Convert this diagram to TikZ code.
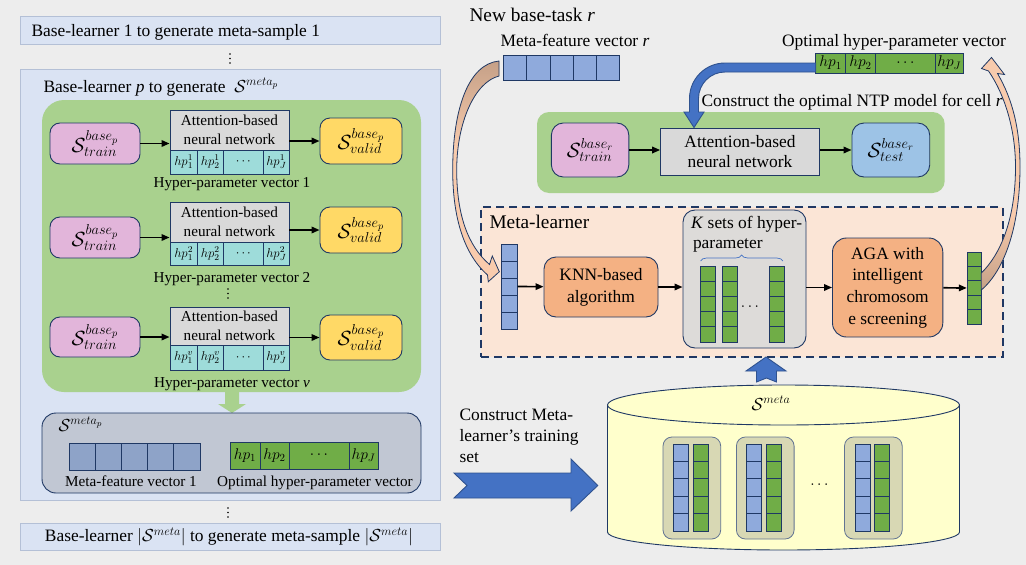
\RequirePackage{fix-cm}
\documentclass[tikz,border=0pt]{standalone}
\usepackage{fontspec}
\setmainfont{Liberation Serif}
\usetikzlibrary{arrows.meta,decorations.pathreplacing}

\definecolor{bg}{HTML}{EDEDED}
\definecolor{panelblue}{HTML}{DAE3F3}
\definecolor{panelline}{HTML}{B4C0D6}
\definecolor{greenreg}{HTML}{A9D18E}
\definecolor{pinkc}{HTML}{E2B5DA}
\definecolor{grayc}{HTML}{D9D9D9}
\definecolor{tealc}{HTML}{9EDCDA}
\definecolor{yellowc}{HTML}{FFD966}
\definecolor{metapc}{HTML}{C1C7D3}
\definecolor{bluecellL}{HTML}{8EA3C8}
\definecolor{bluecell}{HTML}{8FAADC}
\definecolor{greencell}{HTML}{70AD47}
\definecolor{navy}{HTML}{1F3864}
\definecolor{bluebox}{HTML}{9DC3E6}
\definecolor{peachbg}{HTML}{FBE5D6}
\definecolor{orangec}{HTML}{F4B183}
\definecolor{ksetc}{HTML}{DDDBD9}
\definecolor{cylc}{HTML}{FFFFCC}
\definecolor{khaki}{HTML}{D8D8B4}
\definecolor{arrowblue}{HTML}{4472C4}
\definecolor{arrowblueline}{HTML}{2F528F}
\definecolor{peach}{HTML}{F8CBAD}
\definecolor{tanc}{HTML}{C49F86}

\tikzset{
  fL/.style={font=\fontsize{17.4}{21}\selectfont},
  fM/.style={font=\fontsize{15.2}{19}\selectfont},
  fXL/.style={font=\fontsize{19.3}{23}\selectfont},
  fS/.style={font=\fontsize{20.5}{22}\selectfont},
  hpf/.style={font=\fontsize{12.8}{14}\selectfont, inner sep=0pt},
  hpg/.style={font=\fontsize{15.5}{17}\selectfont, inner sep=0pt},
  panel/.style={draw=panelline, line width=0.8pt, fill=panelblue, inner sep=0pt},
  sq/.style={draw=navy, line width=0.9pt, inner sep=0pt, align=center},
  rnd/.style={sq, rounded corners=#1},
  rnd/.default=10pt,
  cellline/.style={draw=navy, line width=0.7pt},
  arr/.style={-{Triangle[length=8pt,width=6.5pt]}, line width=1.7pt, black},
  blockarrow/.style={fill=arrowblue, draw=arrowblueline, line width=0.9pt},
  ghost/.style={inner sep=0pt, draw=none},
}

\newcommand{\hfive}[5]{%
  \draw[cellline,fill=#5] (#1,#2) rectangle (#3,#4);
  \foreach \k in {1,2,3,4}{\draw[cellline] ({#1+(#3-#1)*\k/5},#2) -- ({#1+(#3-#1)*\k/5},#4);}%
}
\newcommand{\vfive}[5]{%
  \draw[cellline,fill=#5] (#1,#2) rectangle (#3,#4);
  \foreach \k in {1,2,3,4}{\draw[cellline] (#1,{#2+(#4-#2)*\k/5}) -- (#3,{#2+(#4-#2)*\k/5});}%
}
\newcommand{\hpL}[3]{%
  \draw[cellline,fill=tealc] (170,#1) rectangle (289,#2);
  \draw[cellline] (197.3,#1)--(197.3,#2) (223.3,#1)--(223.3,#2) (263.3,#1)--(263.3,#2);
  \node[hpf] (hp#3a) at (183.65,{(#1+#2)/2}) {$hp^{#3}_1$};
  \node[hpf] (hp#3b) at (210.3,{(#1+#2)/2}) {$hp^{#3}_2$};
  \node[hpf] (hp#3c) at (243.3,{(#1+#2)/2}) {$\cdots$};
  \node[hpf] (hp#3d) at (276.3,{(#1+#2)/2}) {$hp^{#3}_J$};
}
\newcommand{\LeftCurvePath}{(499,61) .. controls (468,64) and (452.7,110) .. (452.7,170) .. controls (452.7,220) and (465,255) .. (487.5,275) -- (488.3,281.7) -- (499.3,271.7) -- (492.3,256) -- (489.5,264.5) .. controls (468,246) and (456.7,215) .. (456.7,170) .. controls (456.7,122) and (475,82) .. (499,76) -- cycle}
\newcommand{\RightCurvePath}{(981.3,273) .. controls (1000,255) and (1015.5,220) .. (1015.5,167) .. controls (1015.5,130) and (1005,95) .. (988.5,71) -- (981.5,68.5) -- (991.5,57.5) -- (1004.5,74.5) -- (997.5,73.5) .. controls (1013,100) and (1020,130) .. (1020,167) .. controls (1020,225) and (1005,270) .. (981.3,290) -- cycle}

\begin{document}
\begin{tikzpicture}[x=1pt,y=-1pt]
\useasboundingbox (0,0) rectangle (1026,565);
\fill[bg] (0,0) rectangle (1026,565);

%================ LEFT =================
\node[panel, minimum width=420, minimum height=28] (topbox) at (230,30) {};
\node[fL, anchor=base west] (toptxt) at (28,36) {Base-learner 1 to generate meta-sample 1};
\foreach \yy in {54,58.5,63} \fill (230,\yy) circle (0.9);

\node[panel, minimum width=420, minimum height=431] (ppanel) at (230,284.5) {};
\node[fL, anchor=base west] (ptitle) at (40,92) {Base-learner \textit{p} to generate \ $\mathcal{S}^{meta_p}$};
\node[ghost, fill=greenreg, rounded corners=22pt, minimum width=379, minimum height=292] (greg) at (231.5,246) {};

% row 1
\node[rnd, fill=pinkc, minimum width=90, minimum height=41, fS] (p1) at (95,143.5) {$\mathcal{S}^{base_p}_{train}$};
\node[sq, fill=grayc, minimum width=119, minimum height=40, fM] (g1) at (229.5,130) {Attention-based\\neural network};
\hpL{150}{174}{1}
\node[rnd, fill=yellowc, minimum width=82, minimum height=46, fS] (y1) at (361,141) {$\mathcal{S}^{base_p}_{valid}$};
\node[fM, anchor=base] (h1) at (232,187) {Hyper-parameter vector 1};
\draw[arr] (p1) -- (p1 -| g1.west);
\draw[arr] (y1 -| g1.east) -- (y1);

% row 2
\node[rnd, fill=pinkc, minimum width=90, minimum height=41, fS] (p2) at (95,237.5) {$\mathcal{S}^{base_p}_{train}$};
\node[sq, fill=grayc, minimum width=119, minimum height=40, fM] (g2) at (229.5,222) {Attention-based\\neural network};
\hpL{242}{265}{2}
\node[rnd, fill=yellowc, minimum width=82, minimum height=46, fS] (y2) at (361,230) {$\mathcal{S}^{base_p}_{valid}$};
\node[fM, anchor=base] (h2) at (232,282.7) {Hyper-parameter vector 2};
\draw[arr] (p2) -- (p2 -| g2.west);
\draw[arr] (y2 -| g2.east) -- (y2);

\foreach \yy in {289,293.5,298} \fill (228,\yy) circle (0.9);

% row 3
\node[rnd, fill=pinkc, minimum width=90, minimum height=40, fS] (p3) at (95,337) {$\mathcal{S}^{base_p}_{train}$};
\node[sq, fill=grayc, minimum width=119, minimum height=38, fM] (g3) at (229.5,326) {Attention-based\\neural network};
\hpL{345}{370}{v}
\node[rnd, fill=yellowc, minimum width=82, minimum height=45, fS] (y3) at (361,337.5) {$\mathcal{S}^{base_p}_{valid}$};
\node[fM, anchor=base] (h3) at (232,387) {Hyper-parameter vector \textit{v}};
\draw[arr] (p3) -- (p3 -| g3.west);
\draw[arr] (y3 -| g3.east) -- (y3);

% green down arrow
\fill[greenreg] (225,391) -- (239,391) -- (239,404) -- (246,404) -- (232,413) -- (218,404) -- (225,404) -- cycle;

% meta_p box
\node[rnd=14pt, fill=metapc, minimum width=379, minimum height=80] (mp) at (231.5,453) {};
\node[fL, anchor=base west] (mplab) at (55,431) {$\mathcal{S}^{meta_p}$};
\hfive{69}{443}{200}{470}{bluecellL}
\draw[cellline, fill=greencell] (230,442) rectangle (378,469);
\draw[cellline] (260,442)--(260,469) (289,442)--(289,469) (349,442)--(349,469);
\node[hpg] (mphp1) at (245,455.5) {$hp_1$};
\node[hpg] (mphp2) at (274.5,455.5) {$hp_2$};
\node[hpg] (mphp3) at (319,455.5) {$\cdots$};
\node[hpg] (mphp4) at (363.5,455.5) {$hp_J$};
\node[fM, anchor=base] (mflab1) at (131,486) {Meta-feature vector 1};
\node[fM, anchor=base] (ohlab1) at (315,486) {Optimal hyper-parameter vector};

\foreach \yy in {508,512.5,517} \fill (228,\yy) circle (0.9);
\node[panel, minimum width=420, minimum height=27] (botbox) at (230,536.5) {};
\node[fL, anchor=base] (bottxt) at (229,541.5) {Base-learner $|\mathcal{S}^{meta}|$ to generate meta-sample $|\mathcal{S}^{meta}|$};

%================ RIGHT TOP =================
\node[fXL, anchor=base west] (newtask) at (466,21) {New base-task \textit{r}};
\node[fL, anchor=base] (mfrlab) at (575,46.5) {Meta-feature vector \textit{r}};
\node[ghost, minimum width=115.8, minimum height=25] (mfr) at (561.5,67.5) {};
\hfive{503.6}{55}{619.4}{80}{bluecell}
\node[fL, anchor=base] (ohplab) at (894,46.5) {Optimal hyper-parameter vector};
\node[ghost, minimum width=147.7, minimum height=20] (ohp) at (889.55,63) {};
\draw[cellline, fill=greencell] (815.7,53) rectangle (963.4,73);
\draw[cellline] (845.6,53)--(845.6,73) (875.5,53)--(875.5,73) (935.3,53)--(935.3,73);
\node[hpg] (rhp1) at (830.6,63) {$hp_1$};
\node[hpg] (rhp2) at (860.5,63) {$hp_2$};
\node[hpg] (rhp3) at (905.4,63) {$\cdots$};
\node[hpg] (rhp4) at (949.3,63) {$hp_J$};

\node[fL, anchor=base west] (constr) at (698,106) {Construct the optimal NTP model for cell \textit{r}};
\node[ghost, fill=greenreg, rounded corners=12pt, minimum width=407.7, minimum height=81] (rgreg) at (740.85,152.5) {};

% blue curved arrow
\path[blockarrow] (815.7,63) -- (725,63) .. controls (705.4,63) and (689.5,78.9) .. (689.5,98.5) -- (689.5,112) -- (684,112) -- (694,127.5) -- (704,112) -- (698.5,112) -- (698.5,98.5) .. controls (698.5,83.9) and (710.4,72) .. (725,72) -- (815.7,72) -- cycle;

\node[rnd=12pt, fill=pinkc, minimum width=77.4, minimum height=54, fS] (rp) at (590.1,150) {$\mathcal{S}^{base_r}_{train}$};
\node[sq, fill=grayc, minimum width=158.8, minimum height=47, font=\fontsize{17.4}{20.7}\selectfont] (rg) at (740,151.5) {Attention-based\\neural network};
\node[rnd=12pt, fill=bluebox, minimum width=77.7, minimum height=54, fS] (rb) at (890.85,150) {$\mathcal{S}^{base_r}_{test}$};
\draw[arr] (rp) -- (rp -| rg.west);
\draw[arr] (rb -| rg.east) -- (rb);

%================ META-LEARNER =================
\node[draw=navy, line width=2pt, dash pattern=on 8pt off 5pt, fill=peachbg, minimum width=521.6, minimum height=150, inner sep=0pt] (ml) at (741.8,282) {};
\node[fXL, anchor=base west] (mllab) at (486,228.3) {Meta-learner};

\node[ghost, minimum width=15.7, minimum height=85] (mlin) at (509.55,286.5) {};
\vfive{501.7}{244}{517.4}{329}{bluecell}

\node[rnd=12pt, fill=orangec, minimum width=114, minimum height=60, font=\fontsize{17.4}{21.7}\selectfont] (knn) at (601,287) {KNN-based\\algorithm};

\node[rnd=12pt, fill=ksetc, minimum width=123, minimum height=138] (kset) at (744.5,279) {};
\node[fL, anchor=base west] (kset1) at (687.5,228) {\textit{K} sets of hyper-};
\node[fL, anchor=base west] (kset2) at (689.5,248) {parameter};
\draw[arrowblue, line width=0.7pt, decorate, decoration={brace, amplitude=6pt}] (700.6,261) -- (782.8,261);
\vfive{700.6}{266}{715.5}{342}{greencell}
\vfive{722}{266}{737}{342}{greencell}
\vfive{769.7}{266}{784.7}{342}{greencell}
\node[hpg] (kdots) at (750,307) {$\cdots$};

\node[rnd=14pt, fill=orangec, minimum width=110.3, minimum height=99, font=\fontsize{17.4}{21.7}\selectfont] (aga) at (887.65,287.5) {AGA with\\intelligent\\chromosom\\e screening};

\node[ghost, minimum width=14.3, minimum height=72] (mlout) at (974.15,288) {};
\vfive{967}{252}{981.3}{324}{greencell}

\draw[arr] (mlin) -- (knn);
\draw[arr] (knn) -- (knn -| kset.west);
\draw[arr] (aga -| kset.east) -- (aga);
\draw[arr] (aga) -- (mlout);

% up arrow
\path[blockarrow] (766,357) -- (786,371) -- (776.5,371) -- (776.5,382) -- (766.5,378) -- (756.5,382) -- (756.5,371) -- (746,371) -- cycle;

%================ CYLINDER =================
\path[fill=cylc, draw=navy, line width=0.9pt] (607.5,405) -- (607.5,532) .. controls (607.5,541.9) and (686.3,550) .. (783.5,550) .. controls (880.7,550) and (959.5,541.9) .. (959.5,532) -- (959.5,405) -- cycle;
\draw[fill=cylc, draw=navy, line width=0.9pt] (783.5,405) ellipse [x radius=176, y radius=20];
\node[fL, anchor=base] (smeta) at (771,410) {$\mathcal{S}^{meta}$};

\foreach \bx/\bl/\gl in {663/673/693, 736.4/746.5/766.4, 844.5/855/874.8}{
  \draw[fill=khaki, draw=navy!70, line width=0.8pt, rounded corners=9pt] (\bx,437) rectangle ({\bx+57.7},539);
  \vfive{\bl}{444}{\bl+15}{531}{bluecell}
  \vfive{\gl}{444}{\gl+15}{531}{greencell}
}
\node[hpg] (cdots) at (819.4,485) {$\cdots$};

% Construct meta-learner's training set
\node[fL, anchor=base west] (cm1) at (456,420) {Construct Meta-};
\node[fL, anchor=base west] (cm2) at (456,441) {learner’s training};
\node[fL, anchor=base west] (cm3) at (456,462) {set};
\path[blockarrow] (454,473) -- (571,473) -- (571,459) -- (597.8,485.5) -- (571,511) -- (571,498) -- (454,498) -- (467,485.5) -- cycle;

%================ CURVED ARROWS =================
\fill[peach] \LeftCurvePath;
\begin{scope}
  \clip \LeftCurvePath;
  \shade[top color=tanc, bottom color=peach] (440,58) rectangle (512,150);
\end{scope}
\draw[navy, line width=0.8pt] \LeftCurvePath;

\fill[peach] \RightCurvePath;
\begin{scope}
  \clip \RightCurvePath;
  \shade[top color=peach, bottom color=tanc] (970,215) rectangle (1025,292);
\end{scope}
\draw[navy, line width=0.8pt] \RightCurvePath;

\end{tikzpicture}
\end{document}
